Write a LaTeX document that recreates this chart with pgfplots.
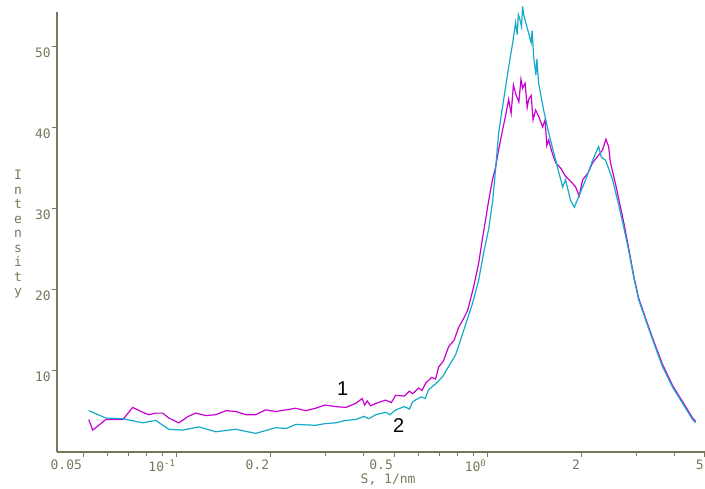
\documentclass[border=0pt]{standalone}
\usepackage{fontspec}
\setmainfont{DejaVu Sans Mono}
\newfontfamily\labfont{Liberation Sans}
\usepackage{pgfplots}
\pgfplotsset{compat=1.18}
\definecolor{axc}{RGB}{122,120,92}
\definecolor{magc}{RGB}{200,0,210}
\definecolor{cyc}{RGB}{20,170,200}
\begin{document}
\begin{tikzpicture}
\useasboundingbox (-57pt,-36pt) rectangle (648pt,452pt);
\begin{axis}[
  scale only axis, width=648pt, height=440pt, at={(0,0)}, anchor=south west,
  xmode=log, xmin=0.0412, xmax=5, ymin=0, ymax=54.3,
  axis x line*=bottom, axis y line*=left,
  axis line style={-, draw=axc, line width=1.6pt},
  xtick={0.05,0.1,0.2,0.5,1,2,5},
  xticklabels={0.05,10\textsuperscript{-1},0.2,0.5,10\textsuperscript{0},2,5},
  minor xtick={0.06,0.07,0.08,0.09,0.3,0.4,0.6,0.7,0.8,0.9,3,4},
  ytick={10,20,30,40,50},
  tick align=outside, major tick length=5pt, minor tick length=4pt,
  tick style={draw=axc, line width=1pt},
  ticklabel style={font=\fontsize{13}{15}\selectfont, text=axc},
  xticklabel style={anchor=north east, inner sep=1pt, yshift=-2pt},
  yticklabel style={anchor=north east, inner sep=1pt},
  /pgf/number format/assume math mode=true,
  clip=false,
]
\addplot[magc, line width=1.2pt] coordinates {
(0.05212,4.0) (0.05370,2.7) (0.05910,4.0) (0.06706,4.0) (0.07219,5.5) (0.07774,4.9)
(0.08128,4.6) (0.08560,4.8) (0.09016,4.8) (0.09425,4.2) (0.10149,3.6) (0.1090,4.4) (0.1151,4.8)
(0.1240,4.5) (0.1335,4.6) (0.1440,5.1) (0.1548,5.0) (0.1670,4.6) (0.1795,4.6) (0.1930,5.2) (0.2081,5.0)
(0.2250,5.2) (0.2413,5.4) (0.2600,5.1) (0.2798,5.4) (0.3000,5.8) (0.3245,5.6) (0.3500,5.5) (0.3763,6.0)
(0.3950,6.6) (0.4020,5.8) (0.4100,6.3) (0.4200,5.7) (0.4364,6.0) (0.4700,6.4) (0.4900,6.1) (0.5060,7.0)
(0.5400,6.9) (0.5600,7.5) (0.5739,7.2) (0.6000,7.9) (0.6150,7.6) (0.6318,8.5) (0.6600,9.2) (0.6800,9.0)
(0.6959,10.5) (0.7200,11.2) (0.7491,13.0) (0.7800,13.8) (0.8069,15.4) (0.8350,16.4) (0.8625,17.5)
(0.8800,18.8) (0.9015,20.4) (0.9356,23.3) (0.9636,26.5) (1.0074,31.0) (1.0350,33.5) (1.0610,35.2)
(1.0848,37.3) (1.1175,39.8) (1.1420,41.5) (1.1682,43.5) (1.1900,41.8) (1.2100,45.3) (1.2303,44.2)
(1.2600,43.2) (1.2800,46.0) (1.2958,44.9) (1.3200,45.5) (1.3400,42.5) (1.3546,43.5) (1.3800,44.0)
(1.4000,41.0) (1.4268,42.2) (1.4600,41.4) (1.5026,40.1) (1.5300,41.0) (1.5500,37.8) (1.5711,38.5)
(1.6100,37.0) (1.6546,35.7) (1.7200,35.0) (1.7818,34.0) (1.8500,33.4) (1.9187,32.7) (1.9700,31.6)
(2.0209,33.6) (2.1000,34.4) (2.1758,35.7) (2.2600,36.5) (2.3431,37.3) (2.4000,38.6) (2.4494,37.7)
(2.4800,35.8) (2.5227,34.6) (2.5800,33.0) (2.6375,31.3) (2.7370,28.4) (2.8405,25.2) (2.9477,21.8)
(3.0589,19.0) (3.2214,16.5) (3.4191,13.7) (3.6527,10.8) (3.9338,8.2) (4.2364,6.2) (4.5615,4.2) (4.6638,3.8)
};
\addplot[cyc, line width=1.2pt] coordinates {
(0.05212,5.1) (0.05910,4.2) (0.06706,4.1) (0.07774,3.6) (0.08560,3.9) (0.09425,2.8) (0.10454,2.7)
(0.1177,3.1) (0.1335,2.5) (0.1548,2.8) (0.1795,2.3) (0.2081,3.0) (0.2250,2.9) (0.2413,3.4) (0.2798,3.3)
(0.3000,3.5) (0.3245,3.6) (0.3500,3.9) (0.3763,4.0) (0.4000,4.4) (0.4150,4.1) (0.4364,4.6) (0.4700,4.9)
(0.4850,4.6) (0.5060,5.2) (0.5400,5.6) (0.5600,5.3) (0.5739,6.2) (0.6100,6.8) (0.6300,6.6) (0.6460,7.7)
(0.6800,8.4) (0.7166,9.3) (0.7500,10.6) (0.7893,12.0) (0.8373,15.0) (0.8948,18.4) (0.9356,21.2)
(0.9708,24.6) (1.0074,27.5) (1.0378,31.0) (1.0610,35.0) (1.0848,39.4) (1.1258,43.5) (1.1682,47.5)
(1.2000,50.2) (1.2303,53.0) (1.2450,51.5) (1.2550,54.0) (1.2674,53.5) (1.2850,52.5) (1.2958,55.0)
(1.3055,54.0) (1.3300,52.8) (1.3546,51.7) (1.3800,50.5) (1.3900,52.0) (1.4057,48.8) (1.4300,46.5)
(1.4400,48.5) (1.4588,45.5) (1.5137,42.2) (1.5711,39.4) (1.6546,36.0) (1.7426,32.7) (1.7800,33.6)
(1.8489,31.0) (1.9000,30.2) (1.9618,31.5) (2.0661,33.6) (2.1758,36.0) (2.2745,37.7) (2.3200,36.4)
(2.3955,36.0) (2.5227,33.6) (2.6375,30.5) (2.7370,27.8) (2.8405,24.9) (2.9477,21.6) (3.0589,18.8)
(3.2214,16.3) (3.4191,13.5) (3.6527,10.5) (3.9338,8.0) (4.2364,6.0) (4.5615,4.0) (4.6638,3.6)
};
\node[font=\fontsize{13}{14.5}\selectfont, text=axc, inner sep=0pt] at (rel axis cs:0,0.493) [xshift=-39pt]
  {\begin{tabular}{@{}c@{}}I\\n\\t\\e\\n\\s\\i\\t\\y\end{tabular}};
\node[font=\fontsize{13}{15}\selectfont, text=axc] at (rel axis cs:0.511,0) [yshift=-28pt] {S, 1/nm};
\node[font=\labfont\fontsize{20}{22}\selectfont, text=black] at (axis cs:0.3419,7.78) {1};
\node[font=\labfont\fontsize{20}{22}\selectfont, text=black] at (axis cs:0.5173,3.21) {2};
\end{axis}
\end{tikzpicture}
\end{document}
